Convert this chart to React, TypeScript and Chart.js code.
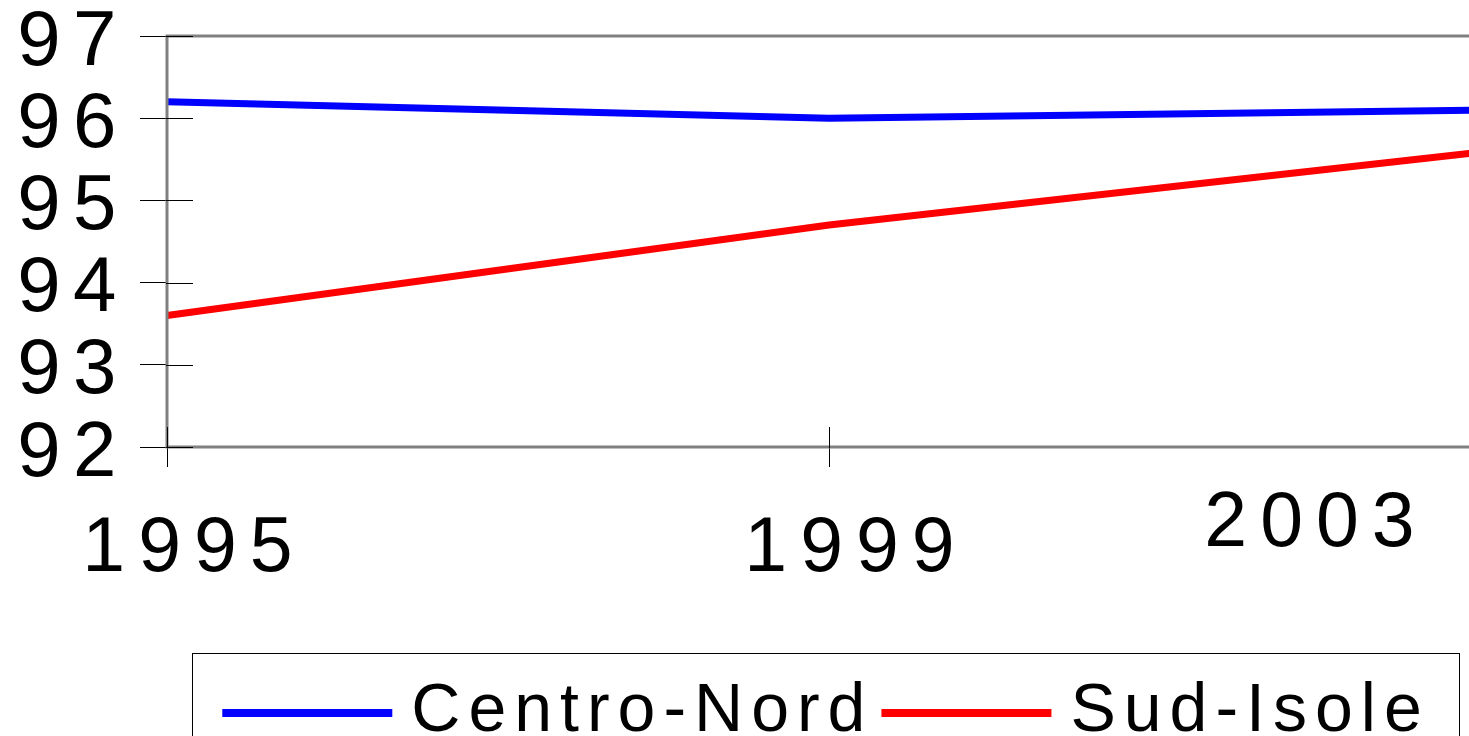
import React, { useEffect, useRef } from 'react';
import { Chart, registerables } from 'chart.js';

Chart.register(...registerables);

// ---- data ----
const years = ['1995', '1999', '2003'];
const centroNord = [96.2, 96.0, 96.1];
const sudIsole = [93.6, 94.7, 95.6];
const yMin = 92;
const yMax = 97;
const seriesNames = ['Centro-Nord', 'Sud-Isole'];
const seriesColors = ['#0000FF', '#FF0000'];

const FONT = "'Liberation Sans', Arial, Helvetica, sans-serif";

// letter spacing applied to each axis' labels
const labelSpacing: Record<string, string> = { x: '13px', y: '12.5px' };

const spacingPlugin = {
  id: 'labelSpacing',
  afterLayout(chart: any) {
    for (const id of ['x', 'y']) {
      const s: any = chart.scales[id];
      if (!s || s.__patched) continue;
      const orig = s.drawLabels;
      s.drawLabels = function (area: any) {
        const ctx = this.ctx;
        ctx.save();
        ctx.letterSpacing = labelSpacing[id];
        orig.call(this, area);
        ctx.restore();
      };
      s.__patched = true;
    }
  },
};

const framePlugin = {
  id: 'frame',
  afterDatasetsDraw(chart: any) {
    const { ctx, chartArea: a, scales } = chart;
    const x = scales.x;
    const y = scales.y;
    ctx.save();
    // plot area border (top, left, bottom)
    ctx.strokeStyle = '#808080';
    ctx.lineWidth = 3;
    ctx.beginPath();
    ctx.moveTo(a.right + 10, a.top);
    ctx.lineTo(a.left, a.top);
    ctx.lineTo(a.left, a.bottom);
    ctx.lineTo(a.right + 10, a.bottom);
    ctx.stroke();
    // inner halves of the crossing tick marks
    ctx.strokeStyle = '#000';
    ctx.lineWidth = 1;
    ctx.beginPath();
    y.ticks.forEach((_t: any, i: number) => {
      const py = Math.round(y.getPixelForTick(i)) + 0.5;
      ctx.moveTo(a.left - 1, py);
      ctx.lineTo(a.left + 26, py);
    });
    x.ticks.forEach((_t: any, i: number) => {
      const px = Math.round(x.getPixelForTick(i)) + 0.5;
      ctx.moveTo(px, a.bottom + 1);
      ctx.lineTo(px, a.bottom - 20);
    });
    ctx.stroke();
    // last category label, drawn shifted inside the visible area
    const last = x.ticks.length - 1;
    ctx.font = `77px ${FONT}`;
    (ctx as any).letterSpacing = labelSpacing.x;
    ctx.fillStyle = '#000';
    ctx.textAlign = 'center';
    ctx.textBaseline = 'middle';
    ctx.fillText(years[last], x.getPixelForTick(last) - 175, a.bottom + 78);
    ctx.restore();
  },
};

const boxedLegendPlugin = {
  id: 'boxedLegend',
  afterDraw(chart: any) {
    const { ctx } = chart;
    const cfg = {
      centerX: 826,
      lineY: 713,
      baseline: 731,
      lineLen: 170,
      lineW: 8,
      gapLineText: 19,
      gapItems: 8,
      padX: 30,
      boxTop: 653,
    };
    ctx.save();
    ctx.font = `68px ${FONT}`;
    ctx.letterSpacing = '8px';
    const ds = chart.data.datasets;
    const widths = ds.map((d: any) => ctx.measureText(d.label).width);
    let total = 0;
    widths.forEach((w: number, i: number) => {
      total += cfg.lineLen + cfg.gapLineText + w + (i > 0 ? cfg.gapItems : 0);
    });
    let cx = cfg.centerX - total / 2;
    const left = cx - cfg.padX;
    const right = cx + total + cfg.padX;
    ctx.strokeStyle = '#000';
    ctx.lineWidth = 1;
    ctx.strokeRect(Math.round(left) + 0.5, cfg.boxTop + 0.5, Math.round(right - left), 200);
    ds.forEach((d: any, i: number) => {
      ctx.strokeStyle = d.borderColor;
      ctx.lineWidth = cfg.lineW;
      ctx.beginPath();
      ctx.moveTo(cx, cfg.lineY);
      ctx.lineTo(cx + cfg.lineLen, cfg.lineY);
      ctx.stroke();
      cx += cfg.lineLen + cfg.gapLineText;
      ctx.fillStyle = '#000';
      ctx.textAlign = 'left';
      ctx.textBaseline = 'alphabetic';
      ctx.fillText(d.label, cx, cfg.baseline);
      cx += widths[i] + cfg.gapItems;
    });
    ctx.restore();
  },
};

export default function App() {
  const ref = useRef<HTMLCanvasElement>(null);

  useEffect(() => {
    if (!ref.current) return;
    const chart = new Chart(ref.current, {
      type: 'line',
      data: {
        labels: years,
        datasets: [
          {
            label: seriesNames[0],
            data: centroNord,
            borderColor: seriesColors[0],
            backgroundColor: seriesColors[0],
            borderWidth: 7,
            pointRadius: 0,
            tension: 0,
          },
          {
            label: seriesNames[1],
            data: sudIsole,
            borderColor: seriesColors[1],
            backgroundColor: seriesColors[1],
            borderWidth: 7,
            pointRadius: 0,
            tension: 0,
          },
        ],
      },
      options: {
        responsive: false,
        animation: false,
        layout: { padding: { top: 36, left: 0, right: 9, bottom: 139 } },
        plugins: {
          legend: { display: false },
          tooltip: { enabled: false },
        },
        scales: {
          x: {
            type: 'category',
            offset: false,
            border: { display: false },
            grid: { drawOnChartArea: false, tickLength: 20, color: '#000', lineWidth: 1 },
            ticks: {
              autoSkip: false,
              maxRotation: 0,
              minRotation: 0,
              padding: 37,
              labelOffset: 27,
              color: '#000',
              font: { family: FONT, size: 77, lineHeight: 1.2 },
              callback: (_v: any, i: number) => (i === years.length - 1 ? '' : years[i]),
            },
            afterFit: (s: any) => {
              s.height = 150;
              s.paddingLeft = 0;
              s.paddingRight = 0;
            },
          },
          y: {
            min: yMin,
            max: yMax,
            border: { display: false },
            grid: { drawOnChartArea: false, tickLength: 27, color: '#000', lineWidth: 1 },
            ticks: {
              stepSize: 1,
              padding: 11,
              labelOffset: 7,
              color: '#000',
              font: { family: FONT, size: 78, lineHeight: 0.9 },
            },
            afterFit: (s: any) => {
              s.width = 167;
              s.paddingTop = 0;
              s.paddingBottom = 0;
            },
          },
        },
      },
      plugins: [spacingPlugin, framePlugin, boxedLegendPlugin],
    } as any);
    return () => chart.destroy();
  }, []);

  return (
    <div
      style={{
        position: 'fixed',
        left: 0,
        top: 0,
        width: 1469,
        height: 736,
        overflow: 'hidden',
        background: '#fff',
      }}
    >
      <canvas ref={ref} width={1500} height={736} style={{ display: 'block', width: 1500, height: 736 }} />
    </div>
  );
}
